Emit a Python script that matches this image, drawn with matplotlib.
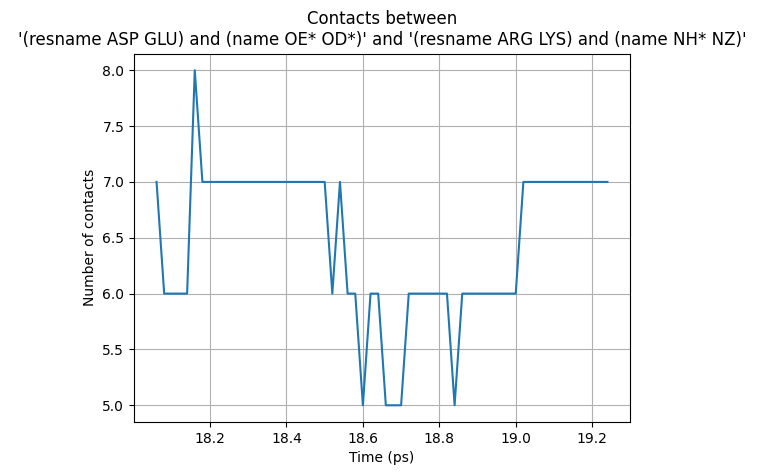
import numpy as np
import matplotlib
matplotlib.use('Agg')
import matplotlib.pyplot as plt

# contact counts per frame, frames every 0.02 ps starting at 18.06
t_start = 18.06
t_step = 0.02
contacts = [7, 6, 6, 6, 6, 8, 7, 7, 7, 7,
            7, 7, 7, 7, 7, 7, 7, 7, 7, 7,
            7, 7, 7, 6, 7, 6, 6, 5, 6, 6,
            5, 5, 5, 6, 6, 6, 6, 6, 6, 5,
            6, 6, 6, 6, 6, 6, 6, 6, 7, 7,
            7, 7, 7, 7, 7, 7, 7, 7, 7, 7]
times = [round(t_start + i * t_step, 2) for i in range(len(contacts))]

sel1 = "(resname ASP GLU) and (name OE* OD*)"
sel2 = "(resname ARG LYS) and (name NH* NZ)"

fig, ax = plt.subplots(figsize=(7.64, 4.76), dpi=100)
plt.subplots_adjust(left=0.1754, right=0.8246, bottom=0.1134, top=0.8876)
ax.plot(times, contacts)
ax.set_title("Contacts between\n'%s' and '%s'" % (sel1, sel2))
ax.set_xlabel('Time (ps)')
ax.set_ylabel('Number of contacts')
ax.grid(True)
fig.savefig('out.png', dpi=100)
